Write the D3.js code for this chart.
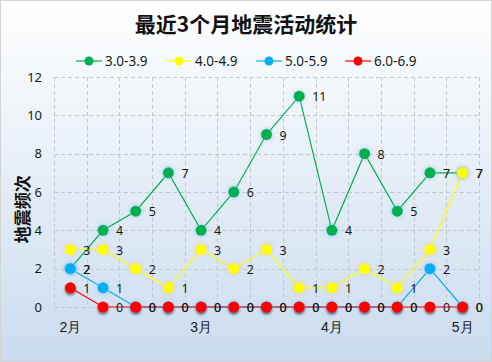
<!DOCTYPE html>
<html>
<head>
<meta charset="utf-8">
<script src="https://cdn.jsdelivr.net/npm/d3@7"></script>
<style>
  html, body { margin: 0; padding: 0; background: #fff; }
  svg { display: block; font-family: "Noto Sans CJK SC", "Noto Sans", sans-serif; }
</style>
</head>
<body>
<div id="chart"></div>
<script>
// datos del gráfico
const categorias = ['2月', '', '', '', '3月', '', '', '', '4月', '', '', '', '5月'];
const serieNombres = ['3.0-3.9', '4.0-4.9', '5.0-5.9', '6.0-6.9'];
const serieColores = ['#00b050', '#ffff00', '#00b0f0', '#ff0000'];
const valores30 = [2, 4, 5, 7, 4, 6, 9, 11, 4, 8, 5, 7, 7];
const valores40 = [3, 3, 2, 1, 3, 2, 3, 1, 1, 2, 1, 3, 7];
const valores50 = [2, 1, 0, 0, 0, 0, 0, 0, 0, 0, 0, 2, 0];
const valores60 = [1, 0, 0, 0, 0, 0, 0, 0, 0, 0, 0, 0, 0];
const ejeY = [0, 2, 4, 6, 8, 10, 12];
const titulo = '最近3个月地震活动统计';
const tituloY = '地震频次';

const series = [valores30, valores40, valores50, valores60];

const width = 492;
const height = 362;
const margin = { top: 77, right: 13, bottom: 55, left: 54 };

const svg = d3.select('#chart')
    .append('svg')
    .attr('width', width)
    .attr('height', height);

const defs = svg.append('defs');
const grad = defs.append('linearGradient')
    .attr('id', 'fondo')
    .attr('x1', 0).attr('y1', 0).attr('x2', 0).attr('y2', 1);
grad.append('stop').attr('offset', '0%').attr('stop-color', '#ffffff');
grad.append('stop').attr('offset', '100%').attr('stop-color', '#cbdcef');

// brillos de los marcadores
const brillos = ['#7fbff0', '#e0bf9c', '#7fbff0', '#202020'];
brillos.forEach((c, i) => {
    const f = defs.append('filter').attr('id', 'brillo' + i)
        .attr('x', '-100%').attr('y', '-100%').attr('width', '300%').attr('height', '300%');
    f.append('feGaussianBlur').attr('in', 'SourceAlpha').attr('stdDeviation', i === 3 ? 1.3 : 2).attr('result', 'blur');
    f.append('feOffset').attr('in', 'blur').attr('dy', i === 3 ? 2 : 0).attr('result', 'off');
    f.append('feFlood').attr('flood-color', c).attr('flood-opacity', i === 3 ? 0.6 : 0.85);
    f.append('feComposite').attr('in2', 'off').attr('operator', 'in').attr('result', 'sombra');
    const m = f.append('feMerge');
    m.append('feMergeNode').attr('in', 'sombra');
    m.append('feMergeNode').attr('in', 'SourceGraphic');
});

svg.append('rect')
    .attr('x', 0.5).attr('y', 0.5)
    .attr('width', width - 1).attr('height', height - 1)
    .attr('fill', 'url(#fondo)')
    .attr('stroke', '#d4d4d4');

const x = d3.scaleBand()
    .domain(d3.range(categorias.length))
    .range([margin.left, width - margin.right]);

const y = d3.scaleLinear()
    .domain([0, 12])
    .range([height - margin.bottom, margin.top]);

const cx = i => x(i) + x.bandwidth() / 2;

// rejilla
const rejilla = svg.append('g')
    .attr('stroke', '#c4c8cc')
    .attr('stroke-dasharray', '4,3')
    .attr('stroke-width', 1);
ejeY.forEach(v => {
    rejilla.append('line')
        .attr('x1', margin.left).attr('x2', width - margin.right)
        .attr('y1', Math.round(y(v)) + 0.5).attr('y2', Math.round(y(v)) + 0.5);
});
d3.range(categorias.length + 1).forEach(i => {
    const xx = i < categorias.length ? x(i) : x.range()[1];
    rejilla.append('line')
        .attr('x1', Math.round(xx) + 0.5).attr('x2', Math.round(xx) + 0.5)
        .attr('y1', margin.top).attr('y2', height - margin.bottom);
});

// ejes
const axY = svg.append('g')
    .attr('transform', `translate(${margin.left - 12}, 0)`)
    .call(d3.axisLeft(y).tickValues(ejeY).tickSize(0).tickPadding(0));
axY.select('.domain').remove();
axY.selectAll('text').attr('font-size', 13).attr('fill', '#1a1a1a')
    .attr('font-family', '"Noto Sans", sans-serif');

const axX = svg.append('g')
    .attr('transform', `translate(0, ${height - margin.bottom})`)
    .call(d3.axisBottom(x).tickFormat(i => categorias[i]).tickSize(0).tickPadding(15));
axX.select('.domain').remove();
axX.selectAll('text').attr('font-size', 14).attr('fill', '#1a1a1a');

// título
svg.append('text')
    .attr('x', width / 2).attr('y', 32)
    .attr('text-anchor', 'middle')
    .attr('font-size', 21).attr('font-weight', 'bold').attr('fill', '#111')
    .text(titulo);

svg.append('text')
    .attr('transform', `translate(29, ${y(5.1)}) rotate(-90)`)
    .attr('text-anchor', 'middle')
    .attr('font-size', 17).attr('font-weight', 'bold').attr('fill', '#111')
    .text(tituloY);

// leyenda
const leyX = [76, 166, 256, 345];
serieNombres.forEach((n, i) => {
    const g = svg.append('g').attr('transform', `translate(${leyX[i]}, 61)`);
    g.append('line').attr('x1', 0).attr('x2', 26).attr('y1', 0).attr('y2', 0)
        .attr('stroke', serieColores[i]).attr('stroke-width', 1.2);
    g.append('circle').attr('cx', 13).attr('cy', 0).attr('r', 4.5).attr('fill', serieColores[i]);
    g.append('text').attr('x', 29).attr('y', 5)
        .attr('font-size', 13.5).attr('fill', '#1a1a1a')
        .attr('font-family', '"Noto Sans", sans-serif')
        .text(n);
});

// líneas y puntos
const linea = d3.line().x((d, i) => cx(i)).y(d => y(d));
series.forEach((s, k) => {
    svg.append('path')
        .datum(s)
        .attr('d', linea)
        .attr('fill', 'none')
        .attr('stroke', serieColores[k])
        .attr('stroke-width', 1.2);
});
series.forEach((s, k) => {
    svg.append('g').selectAll('circle')
        .data(s)
        .enter()
        .append('circle')
        .attr('cx', (d, i) => cx(i))
        .attr('cy', d => y(d))
        .attr('r', 5.5)
        .attr('fill', serieColores[k])
        .attr('filter', `url(#brillo${k})`);
});
series.forEach((s, k) => {
    svg.append('g').selectAll('text')
        .data(s)
        .enter()
        .append('text')
        .attr('x', (d, i) => cx(i) + 13)
        .attr('y', d => y(d) + 5)
        .attr('font-size', 12.5)
        .attr('fill', '#1a1a1a')
        .attr('font-family', '"Noto Sans", sans-serif')
        .text(d => d);
});
</script>
</body>
</html>
